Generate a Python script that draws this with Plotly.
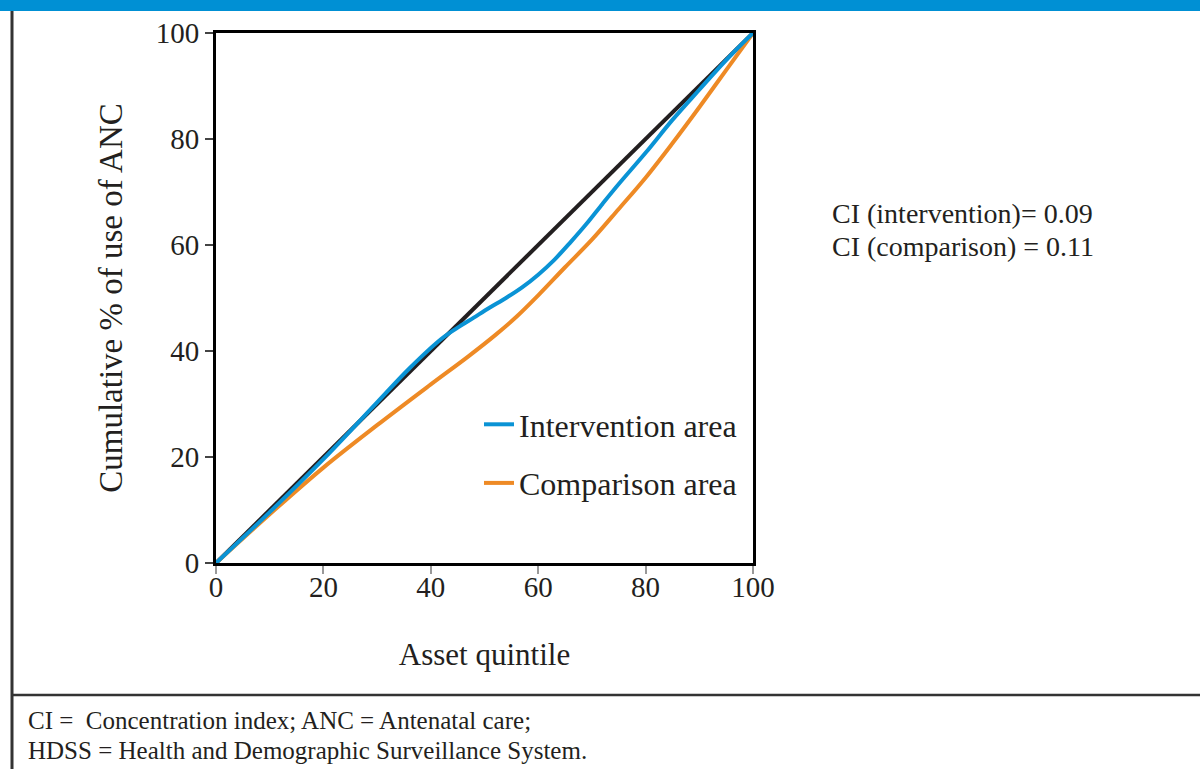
import plotly.graph_objects as go

# ---- data ----
equality_x = [0, 100]
equality_y = [0, 100]

intervention_x = [0, 10, 20, 30, 36, 42, 45, 48, 51, 54, 57, 60, 63, 66, 69, 72, 75, 80, 85, 90, 95, 100]
intervention_y = [0, 9.6, 19.6, 30.3, 36.7, 42.3, 44.4, 46.3, 48.2, 50.0, 52.0, 54.4, 57.2, 60.5, 64.0, 67.8, 71.5, 77.4, 83.6, 89.3, 94.9, 100]

comparison_x = [0, 10, 20, 30, 40, 47, 52, 56, 60, 65, 70, 75, 80, 85, 90, 95, 100]
comparison_y = [0, 9.2, 18.0, 26.0, 33.7, 39.0, 43.0, 46.5, 50.5, 55.8, 61.0, 66.8, 72.7, 79.2, 86.0, 93.0, 100]

tick_vals = [0, 20, 40, 60, 80, 100]
tick_text = ["0", "20", "40", "60", "80", "100"]

ci_lines = ["CI (intervention)= 0.09", "CI (comparison) = 0.11"]
footnote_lines = ["CI =  Concentration index; ANC = Antenatal care;",
                  "HDSS = Health and Demographic Surveillance System."]

# ---- layout geometry (pixels) ----
W, H = 1200, 769
L, R, T, B = 216, 753, 33, 563
PW, PH = R - L, B - T


def px(xp):
    return (xp - L) / PW


def py(yp):
    return (B - yp) / PH


FONT = "Liberation Serif"
TXT = "#231f20"
BLUE = "#0a93d5"
ORANGE = "#ee8a25"

fig = go.Figure()
fig.add_trace(go.Scatter(x=equality_x, y=equality_y, mode="lines",
                         line=dict(color="#231f20", width=4), showlegend=False,
                         hoverinfo="skip"))
fig.add_trace(go.Scatter(x=comparison_x, y=comparison_y, mode="lines",
                         line=dict(color=ORANGE, width=4, shape="spline", smoothing=1.0),
                         name="Comparison area", legendgroup="c", legendrank=2))
fig.add_trace(go.Scatter(x=intervention_x, y=intervention_y, mode="lines",
                         line=dict(color=BLUE, width=4, shape="spline", smoothing=1.0),
                         name="Intervention area", legendgroup="i", legendrank=1))

axis_common = dict(range=[0, 100], tickvals=tick_vals, ticktext=tick_text,
                   showgrid=False, zeroline=False, showline=True, linecolor="black",
                   linewidth=3, mirror=True, ticks="outside", ticklen=8, tickwidth=1.5,
                   tickfont=dict(family=FONT, size=29, color=TXT))

fig.update_layout(
    width=W, height=H,
    margin=dict(l=L, r=W - R, t=T, b=H - B),
    paper_bgcolor="white", plot_bgcolor="white",
    font=dict(family=FONT, color=TXT),
    xaxis=dict(**axis_common, tickcolor="#999999", ticklabelstandoff=-12,
               title=dict(text="Asset quintile", font=dict(family=FONT, size=31, color=TXT),
                          standoff=42)),
    yaxis=dict(**axis_common, tickcolor="#444444",
               title=dict(text="Cumulative % of use of ANC",
                          font=dict(family=FONT, size=33, color=TXT), standoff=24)),
    legend=dict(x=px(479), y=py(397), xanchor="left", yanchor="top",
                bgcolor="rgba(0,0,0,0)", font=dict(family=FONT, size=32, color=TXT),
                traceorder="grouped", tracegroupgap=14),
)

# decorations: top band, left border, separator
fig.add_shape(type="rect", xref="paper", yref="paper", x0=px(0), x1=px(W), y0=py(11), y1=py(0),
              fillcolor="#0090d4", line_width=0, layer="above")
fig.add_shape(type="line", xref="paper", yref="paper", x0=px(12), x1=px(12), y0=py(11), y1=py(H),
              line=dict(color="#333333", width=3))
fig.add_shape(type="line", xref="paper", yref="paper", x0=px(12), x1=px(W), y0=py(695), y1=py(695),
              line=dict(color="#333333", width=2.5))

for i, line in enumerate(ci_lines):
    fig.add_annotation(xref="paper", yref="paper", x=px(830), y=py(213 + 33 * i),
                       xanchor="left", yanchor="middle", text=line, showarrow=False,
                       font=dict(family=FONT, size=28, color=TXT))
for i, line in enumerate(footnote_lines):
    fig.add_annotation(xref="paper", yref="paper", x=px(26), y=py(720 + 30 * i),
                       xanchor="left", yanchor="middle", text=line, showarrow=False,
                       font=dict(family=FONT, size=25, color=TXT))

fig.write_html("out.html")
